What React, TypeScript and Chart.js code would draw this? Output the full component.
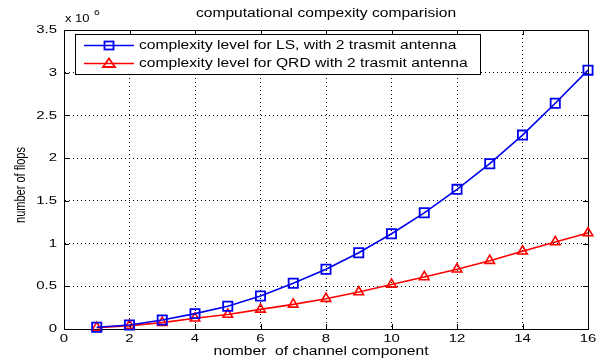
import React, { useEffect, useRef } from "react";
import { Chart, registerables } from "chart.js";

Chart.register(...registerables);

const channels = [1, 2, 3, 4, 5, 6, 7, 8, 9, 10, 11, 12, 13, 14, 15, 16];
// values in millions of flops
const lsFlops = [0.02, 0.047, 0.105, 0.18, 0.266, 0.386, 0.535, 0.70, 0.893, 1.115, 1.36, 1.635, 1.935, 2.27, 2.643, 3.03];
const qrdFlops = [0.015, 0.04, 0.075, 0.125, 0.17, 0.23, 0.288, 0.355, 0.433, 0.522, 0.609, 0.70, 0.80, 0.91, 1.019, 1.124];
const xTicks = [0, 2, 4, 6, 8, 10, 12, 14, 16];
const yTicks = [0, 0.5, 1, 1.5, 2, 2.5, 3, 3.5];

const titleText = "computational compexity comparision";
const xTitle = "nomber  of channel component";
const yTitle = "number of flops";
const lsLabel = "complexity level for LS, with 2 trasmit antenna";
const qrdLabel = "complexity level for QRD with 2 trasmit antenna";

const FONT = "'Liberation Sans', Arial, Helvetica, sans-serif";
const BLUE = "#0000f0";
const RED = "#ff0000";
const SX = 1.3; // horizontal stretch of the reference text

function drawText(
  ctx: CanvasRenderingContext2D,
  text: string,
  x: number,
  y: number,
  size: number,
  align: CanvasTextAlign,
  sx: number,
  rotate = 0
) {
  ctx.save();
  ctx.translate(x, y);
  if (rotate) {
    ctx.rotate(rotate);
    ctx.scale(1, sx);
  } else {
    ctx.scale(sx, 1);
  }
  ctx.font = `${size}px ${FONT}`;
  ctx.textAlign = align;
  ctx.textBaseline = "middle";
  ctx.fillStyle = "#000";
  ctx.fillText(text, 0, 0);
  ctx.restore();
}

const matlabPlugin = {
  id: "matlabDecor",
  beforeDatasetsDraw(chart: any) {
    const { ctx, chartArea } = chart;
    const { left, right, top, bottom } = chartArea;
    const xs = chart.scales.x;
    const ys = chart.scales.y;
    ctx.save();
    ctx.strokeStyle = "#000";
    ctx.lineWidth = 1;
    ctx.setLineDash([]);
    ctx.beginPath();
    ctx.rect(Math.round(left) + 0.5, Math.round(top) + 0.5, Math.round(right - left), Math.round(bottom - top));
    ctx.stroke();
    const tl = 5;
    ctx.beginPath();
    xTicks.forEach((t) => {
      const px = Math.round(xs.getPixelForValue(t)) + 0.5;
      ctx.moveTo(px, bottom);
      ctx.lineTo(px, bottom - tl);
      ctx.moveTo(px, top);
      ctx.lineTo(px, top + tl);
    });
    yTicks.forEach((t) => {
      const py = Math.round(ys.getPixelForValue(t * 1e6)) + 0.5;
      ctx.moveTo(left, py);
      ctx.lineTo(left + tl, py);
      ctx.moveTo(right, py);
      ctx.lineTo(right - tl, py);
    });
    ctx.stroke();
    ctx.restore();
  },
  afterDraw(chart: any) {
    const { ctx, chartArea } = chart;
    const { left, right, top, bottom } = chartArea;
    const xs = chart.scales.x;
    const ys = chart.scales.y;

    // tick labels
    xTicks.forEach((t) => {
      drawText(ctx, String(t), xs.getPixelForValue(t), bottom + 10, 11.5, "center", SX);
    });
    yTicks.forEach((t) => {
      drawText(ctx, String(t), left - 7, ys.getPixelForValue(t * 1e6), 11.5, "right", SX);
    });

    // titles
    drawText(ctx, titleText, (left + right) / 2, 14, 12, "center", SX);
    drawText(ctx, xTitle, 321, 352, 12, "center", SX);
    drawText(ctx, yTitle, 21, 185, 11, "center", SX, -Math.PI / 2);

    // exponent
    drawText(ctx, "x 10", left + 1, 19, 10, "left", SX);
    drawText(ctx, "6", left + 30, 13, 8, "left", SX);

    // legend
    const lx = 75;
    const ly = 34;
    const lw = 405;
    const lh = 40;
    ctx.save();
    ctx.fillStyle = "#fff";
    ctx.fillRect(lx, ly, lw, lh);
    ctx.strokeStyle = "#000";
    ctx.lineWidth = 1;
    ctx.strokeRect(lx + 0.5, ly + 0.5, lw, lh);
    const rows = chart.data.datasets;
    rows.forEach((ds: any, i: number) => {
      const cy = ly + 11.5 + i * 18;
      ctx.strokeStyle = ds.borderColor;
      ctx.lineWidth = 1.6;
      ctx.beginPath();
      ctx.moveTo(84, cy);
      ctx.lineTo(134, cy);
      ctx.stroke();
      ctx.lineWidth = 1.8;
      const mx = 109;
      if (ds.pointStyle === "rect") {
        ctx.strokeRect(mx - 4.5, cy - 4, 9, 8);
      } else {
        ctx.beginPath();
        ctx.moveTo(mx, cy - 5);
        ctx.lineTo(mx + 6, cy + 3.5);
        ctx.lineTo(mx - 6, cy + 3.5);
        ctx.closePath();
        ctx.stroke();
      }
      drawText(ctx, ds.label, 139, cy + 0.5, 12, "left", 1.3);
    });
    ctx.restore();
  },
};

export default function App() {
  const ref = useRef<HTMLCanvasElement>(null);
  useEffect(() => {
    const canvas = ref.current;
    if (!canvas) return;
    const chart = new Chart(canvas, {
      type: "line",
      data: {
        datasets: [
          {
            label: lsLabel,
            data: channels.map((c, i) => ({ x: c, y: lsFlops[i] * 1e6 })),
            borderColor: BLUE,
            borderWidth: 1.6,
            pointStyle: "rect",
            pointRadius: 6.5,
            pointBorderWidth: 1.8,
            pointBackgroundColor: "transparent",
            pointBorderColor: BLUE,
            clip: false,
          } as any,
          {
            label: qrdLabel,
            data: channels.map((c, i) => ({ x: c, y: qrdFlops[i] * 1e6 })),
            borderColor: RED,
            borderWidth: 1.6,
            pointStyle: "triangle",
            pointRadius: 5.5,
            pointBorderWidth: 1.6,
            pointBackgroundColor: "transparent",
            pointBorderColor: RED,
            clip: false,
          } as any,
        ],
      },
      options: {
        animation: false,
        responsive: false,
        layout: { padding: { top: 30, right: 15, left: 0, bottom: 0 } },
        plugins: {
          legend: { display: false },
          title: { display: false },
          tooltip: { enabled: false },
        },
        scales: {
          x: {
            type: "linear",
            min: 0,
            max: 16,
            afterBuildTicks: (s: any) => {
              s.ticks = xTicks.map((v) => ({ value: v }));
            },
            ticks: { display: false },
            grid: { color: "#000", lineWidth: 1, drawTicks: false },
            border: { display: true, color: "#000", dash: [1, 3] },
            title: { display: false },
            afterFit: (s: any) => {
              s.height = 33;
            },
          },
          y: {
            type: "linear",
            min: 0,
            max: 3.5e6,
            afterBuildTicks: (s: any) => {
              s.ticks = yTicks.map((v) => ({ value: v * 1e6 }));
            },
            ticks: { display: false },
            grid: { color: "#000", lineWidth: 1, drawTicks: false },
            border: { display: true, color: "#000", dash: [1, 3] },
            title: { display: false },
            afterFit: (s: any) => {
              s.width = 64;
            },
          },
        },
      },
      plugins: [matlabPlugin],
    });
    return () => chart.destroy();
  }, []);
  return (
    <div style={{ position: "fixed", left: 0, top: 0, width: 603, height: 362, background: "#fff" }}>
      <canvas ref={ref} width={603} height={362} style={{ width: 603, height: 362, display: "block" }} />
    </div>
  );
}
